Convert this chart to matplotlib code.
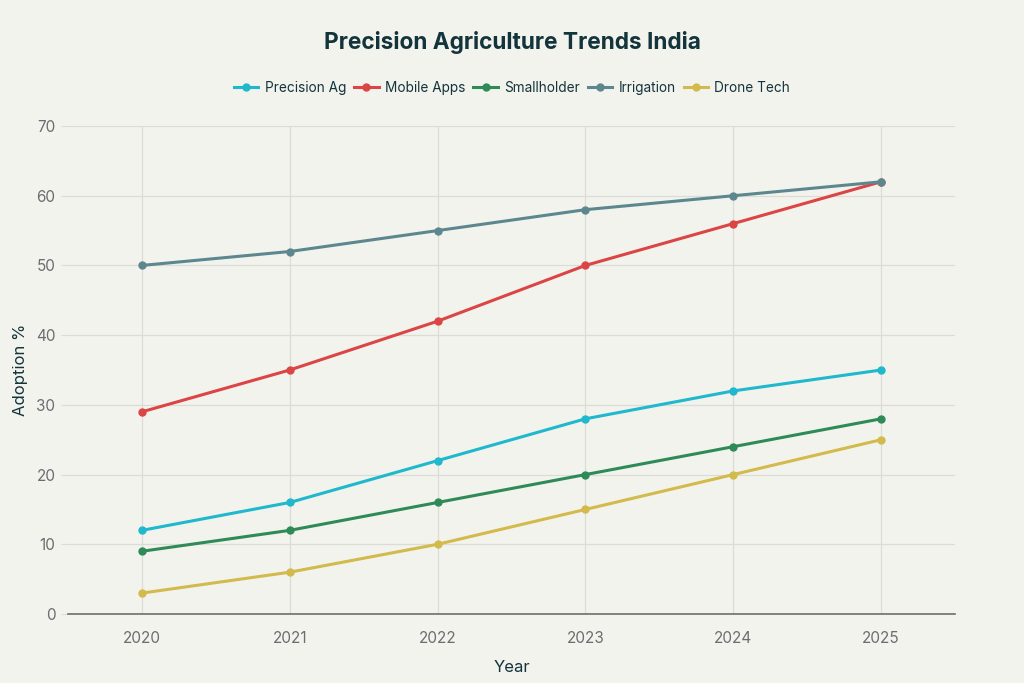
import matplotlib
matplotlib.use('Agg')
import matplotlib.pyplot as plt

years = [2020, 2021, 2022, 2023, 2024, 2025]
precision_ag = [12, 16, 22, 28, 32, 35]
mobile_apps = [29, 35, 42, 50, 56, 62]
smallholder = [9, 12, 16, 20, 24, 28]
irrigation = [50, 52, 55, 58, 60, 62]
drone_tech = [3, 6, 10, 15, 20, 25]

series = [
    ('Precision Ag', precision_ag, '#1FB8CD'),
    ('Mobile Apps', mobile_apps, '#DB4545'),
    ('Smallholder', smallholder, '#2E8B57'),
    ('Irrigation', irrigation, '#5D878F'),
    ('Drone Tech', drone_tech, '#D2BA4C'),
]

plt.rcParams['font.family'] = ['Inter', 'DejaVu Sans']
bg = '#F3F3EE'

fig = plt.figure(figsize=(10.24, 6.83), dpi=100, facecolor=bg)
ax = fig.add_axes([0.0664, 0.101, 0.8662, 0.7145], facecolor=bg)

for name, vals, col in series:
    ax.plot(years, vals, color=col, lw=2.2, marker='o', ms=5, label=name, zorder=3)

ax.set_xlim(2019.5, 2025.5)
ax.set_ylim(0, 70)
ax.set_xticks(years)
ax.set_yticks(range(0, 71, 10))
ax.grid(True, color='#DCDCD6', lw=0.9, zorder=0)
for s in ['top', 'right', 'left']:
    ax.spines[s].set_visible(False)
ax.spines['bottom'].set_color('#6E6E6E')
ax.spines['bottom'].set_linewidth(1.2)
ax.tick_params(axis='x', length=0, pad=12, labelsize=11, labelcolor='#6B6E70')
ax.tick_params(axis='y', length=5, color='#DCDCD6', pad=4, labelsize=11, labelcolor='#6B6E70')

ax.set_xlabel('Year', fontsize=12, color='#13343B', labelpad=10)
ax.set_ylabel('Adoption %', fontsize=12, color='#13343B', labelpad=6)

fig.text(0.5, 0.938, 'Precision Agriculture Trends India', ha='center', va='center',
         fontsize=16.3, fontweight='bold', color='#13343B')
fig.legend(loc='center', bbox_to_anchor=(0.5, 0.871), ncol=5, frameon=False,
           fontsize=9.8, labelcolor='#13343B', handlelength=1.8, columnspacing=0.6,
           handletextpad=0.45)

fig.savefig('out.png', dpi=100, facecolor=bg)
